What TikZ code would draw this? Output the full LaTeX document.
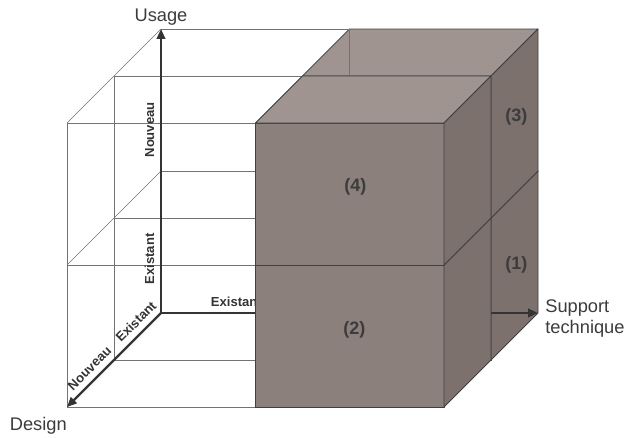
\documentclass[tikz,border=0pt]{standalone}
\usepackage{fontspec}
\setmainfont{Liberation Sans}
\usetikzlibrary{arrows.meta,positioning}
\definecolor{dessus}{RGB}{160,148,144}
\definecolor{face}{RGB}{140,128,124}
\definecolor{cote}{RGB}{125,113,109}
\definecolor{arete}{RGB}{64,64,66}
\definecolor{axecol}{RGB}{52,52,54}
\definecolor{texte}{RGB}{60,60,62}
\tikzset{
  fil/.style={draw=black!55,line width=0.5pt},
  bord/.style={draw=arete,line width=0.6pt,line join=round},
  axe/.style={draw=axecol,line width=1.7pt,-{Triangle[length=7pt,width=6pt]}},
  graduation/.style={font=\fontsize{9.3}{11}\selectfont\bfseries,text=axecol,sloped,above,inner sep=4pt},
  numero/.style={font=\fontsize{12.8}{15}\selectfont\bfseries,text=texte},
  titre/.style={font=\fontsize{13}{15}\selectfont,text=texte,inner sep=0pt}
}
% un petit pave : face avant, dessus, cote droit
\newcommand{\brique}[3]{%
  \filldraw[bord,fill=face] (#1,#2,#3) -- ++(1,0,0) -- ++(0,1,0) -- ++(-1,0,0) -- cycle;
  \filldraw[bord,fill=dessus] (#1,#2+1,#3) -- ++(1,0,0) -- ++(0,0,1) -- ++(-1,0,0) -- cycle;
  \filldraw[bord,fill=cote] (#1+1,#2,#3) -- ++(0,0,1) -- ++(0,1,0) -- ++(0,0,-1) -- cycle;
}
\begin{document}
\begin{tikzpicture}[x={(4.7125cm,0cm)},y={(0cm,3.55cm)},z={(1.175cm,1.175cm)}]
\useasboundingbox (-1.675cm,-0.75cm) rectangle (14.05cm,10.175cm);
\coordinate (O) at (0,0,2);
\coordinate (U) at (0,2,2);
\coordinate (S) at (2,0,2);
\coordinate (D) at (0,0,0);
% blocs du fond
\brique{1}{0}{1}
\brique{1}{1}{1}
% grille de gauche
\foreach \y in {0,1,2}
  \foreach \d in {0,1,2}
    \draw[fil] (0,\y,\d) -- (1,\y,\d);
\foreach \x in {0,1}
  \foreach \d in {0,1,2}
    \draw[fil] (\x,0,\d) -- (\x,2,\d);
\foreach \x in {0,1}
  \foreach \y in {0,1,2}
    \draw[fil] (\x,\y,0) -- (\x,\y,2);
% axes
\draw[axe] (O) -- (U) node[graduation,pos=0.19] (eu) {Existant} node[graduation,pos=0.645] (nu) {Nouveau};
\draw[axe] (O) -- (D) node[graduation,pos=0.18] (ed) {Existant} node[graduation,pos=0.675] (nd) {Nouveau};
\draw[axe] (O) -- (S) node[graduation,pos=0.2] (es) {Existant};
% blocs de devant
\brique{1}{0}{0}
\brique{1}{1}{0}
\node[numero] (n1) at (2,0.49,1.54) {(1)};
\node[numero] (n2) at (1.525,0.545,0) {(2)};
\node[numero] (n3) at (2,1.535,1.54) {(3)};
\node[numero] (n4) at (1.53,1.55,0) {(4)};
\node[titre,above=2.6pt of U] (usage) {Usage};
\node[titre,below left=7pt and 0pt of D] (design) {Design};
\node[titre,right=5pt of S,yshift=-4pt,align=left] (support) {Support\\technique};
\end{tikzpicture}
\end{document}
